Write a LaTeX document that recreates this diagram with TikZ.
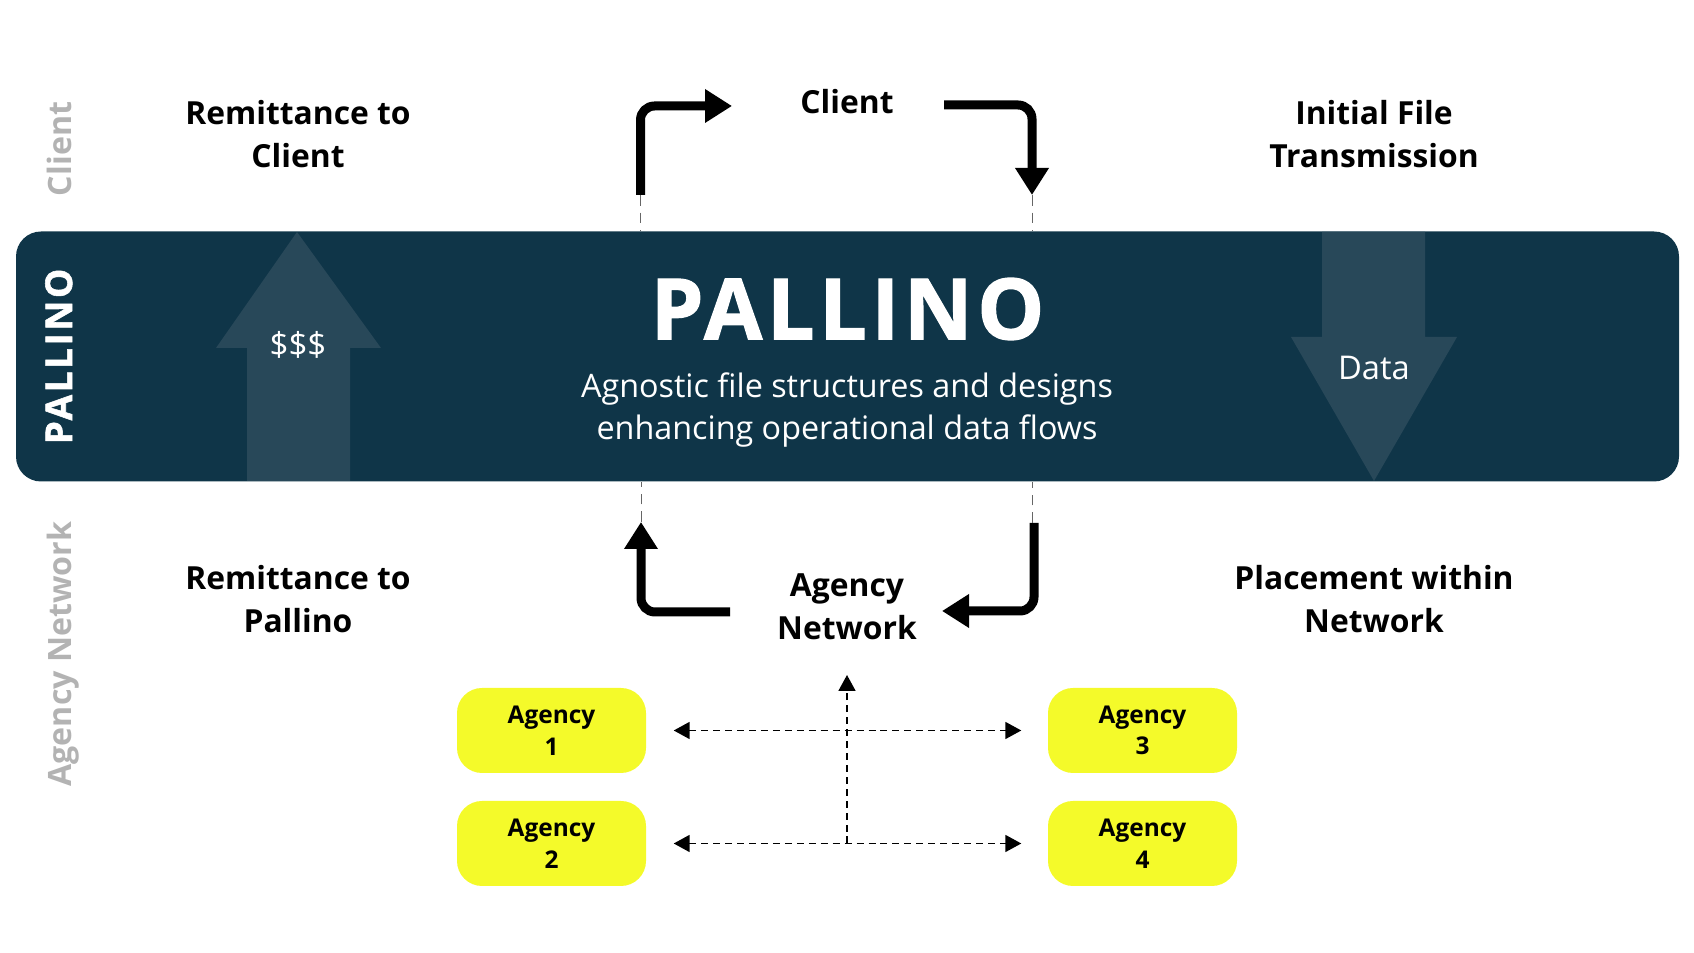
\documentclass[tikz,border=0pt]{standalone}
\usepackage{fontspec}
\setmainfont{Open Sans}
\usetikzlibrary{arrows.meta}
\definecolor{bandblue}{HTML}{0F3548}
\definecolor{ghostblue}{HTML}{284859}
\definecolor{sidegrey}{HTML}{B3B3B3}
\definecolor{agencyyellow}{HTML}{F4FA2A}

\begin{document}
\begin{tikzpicture}[
    labeltext/.style={align=center,inner sep=0,font=\bfseries\fontsize{9.05}{12.2}\selectfont},
    sidetext/.style={rotate=90,anchor=base,inner sep=0,font=\bfseries\fontsize{9.15}{12}\selectfont},
    agencybox/.style={draw=none,fill=agencyyellow,rounded corners=0.25cm,minimum width=1.89cm,minimum height=0.85cm,
      align=center,inner sep=0,font=\bfseries\fontsize{6.95}{9}\selectfont},
    bigarrow/.style={line width=0.09cm,rounded corners=0.14cm,-{Triangle[length=0.27cm,width=0.32cm]}},
    thindash/.style={densely dashed,line width=0.2pt,black!60},
    linkarrow/.style={line width=0.5pt,dash pattern=on 2pt off 1.4pt,-{Triangle[length=0.16cm,width=0.17cm]}}]
      \useasboundingbox (0,0) rectangle (16.94,9.53);

      % band across the middle
      \node (band) [fill=bandblue,rounded corners=0.25cm,minimum width=16.63cm,minimum height=2.5cm,inner sep=0] at (8.475,5.965) {};
      \fill [ghostblue] (2.47,4.72) -- (2.47,6.05) -- (2.16,6.05) -- (2.97,7.21) -- (3.81,6.05) -- (3.50,6.05) -- (3.50,4.72) -- cycle;
      \fill [ghostblue] (13.22,7.21) -- (13.22,6.16) -- (12.91,6.16) -- (13.74,4.72) -- (14.57,6.16) -- (14.25,6.16) -- (14.25,7.21) -- cycle;

      \node (title) [text=white,inner sep=0,font=\bfseries\fontsize{24}{28}\addfontfeatures{LetterSpace=5.5,FakeBold=1.5}] at (8.475,6.44) {PALLINO};
      \node (subtitle) [text=white,align=center,inner sep=0,font=\fontsize{9.2}{12.2}\selectfont] at (8.47,5.43) {Agnostic file structures and designs\\enhancing operational data flows};
      \node (money) [text=white,inner sep=0,font=\fontsize{9.4}{12}\selectfont] at (2.98,6.08) {\$\$\$};
      \node (data) [text=white,inner sep=0,font=\fontsize{9.3}{12}\selectfont] at (13.74,5.85) {Data};

      % side labels
      \node (sideclient) [sidetext,text=sidegrey] at (0.71,8.04) {Client};
      \node (sidepallino) [sidetext,text=white,font=\bfseries\fontsize{10.5}{12}\addfontfeatures{LetterSpace=7,FakeBold=1.5}] at (0.72,5.965) {PALLINO};
      \node (sidenetwork) [sidetext,text=sidegrey] at (0.71,2.99) {Agency Network};

      % captions
      \node (remitclient) [labeltext] at (2.98,8.19) {Remittance to\\Client};
      \node (filetrans) [labeltext] at (13.74,8.19) {Initial File\\Transmission};
      \node (remitpallino) [labeltext] at (2.98,3.54) {Remittance to\\Pallino};
      \node (placement) [labeltext] at (13.74,3.54) {Placement within\\Network};
      \node (client) [labeltext] at (8.47,8.51) {Client};
      \node (network) [labeltext] at (8.47,3.46) {Agency\\Network};

      \node (agency1) [agencybox] at (5.515,2.225) {Agency\\1};
      \node (agency2) [agencybox] at (5.515,1.095) {Agency\\2};
      \node (agency3) [agencybox] at (11.425,2.225) {Agency\\3};
      \node (agency4) [agencybox] at (11.425,1.095) {Agency\\4};

      % free ends of the bent arrows
      \coordinate (upfrom) at (6.405,7.58);
      \coordinate (upto) at (7.32,8.47);
      \coordinate (downfrom) at (9.44,8.48);
      \coordinate (downto) at (10.32,7.58);
      \coordinate (placefrom) at (10.34,4.30);
      \coordinate (placeto) at (9.42,3.42);
      \coordinate (backfrom) at (7.30,3.41);
      \coordinate (backto) at (6.41,4.31);
      \coordinate (networkin) at (8.47,2.78);

      \draw [bigarrow] (upfrom) |- (upto);
      \draw [bigarrow] (downfrom) -| (downto);
      \draw [bigarrow] (placefrom) |- (placeto);
      \draw [bigarrow] (backfrom) -| (backto);

      \draw [thindash] (upfrom) -- (upfrom |- band.north);
      \draw [thindash] (downto) -- (downto |- band.north);
      \draw [thindash] (backto) -- (backto |- band.south);
      \draw [thindash] (downto |- placefrom) -- (downto |- band.south);

      \draw [linkarrow,{Triangle[length=0.16cm,width=0.17cm]}-{Triangle[length=0.16cm,width=0.17cm]},shorten <=0.27cm,shorten >=0.26cm] (agency1) -- (agency3);
      \draw [linkarrow,{Triangle[length=0.16cm,width=0.17cm]}-{Triangle[length=0.16cm,width=0.17cm]},shorten <=0.27cm,shorten >=0.26cm] (agency2) -- (agency4);
      \draw [linkarrow] (networkin |- agency2) -- (networkin);
    \end{tikzpicture}
\end{document}
